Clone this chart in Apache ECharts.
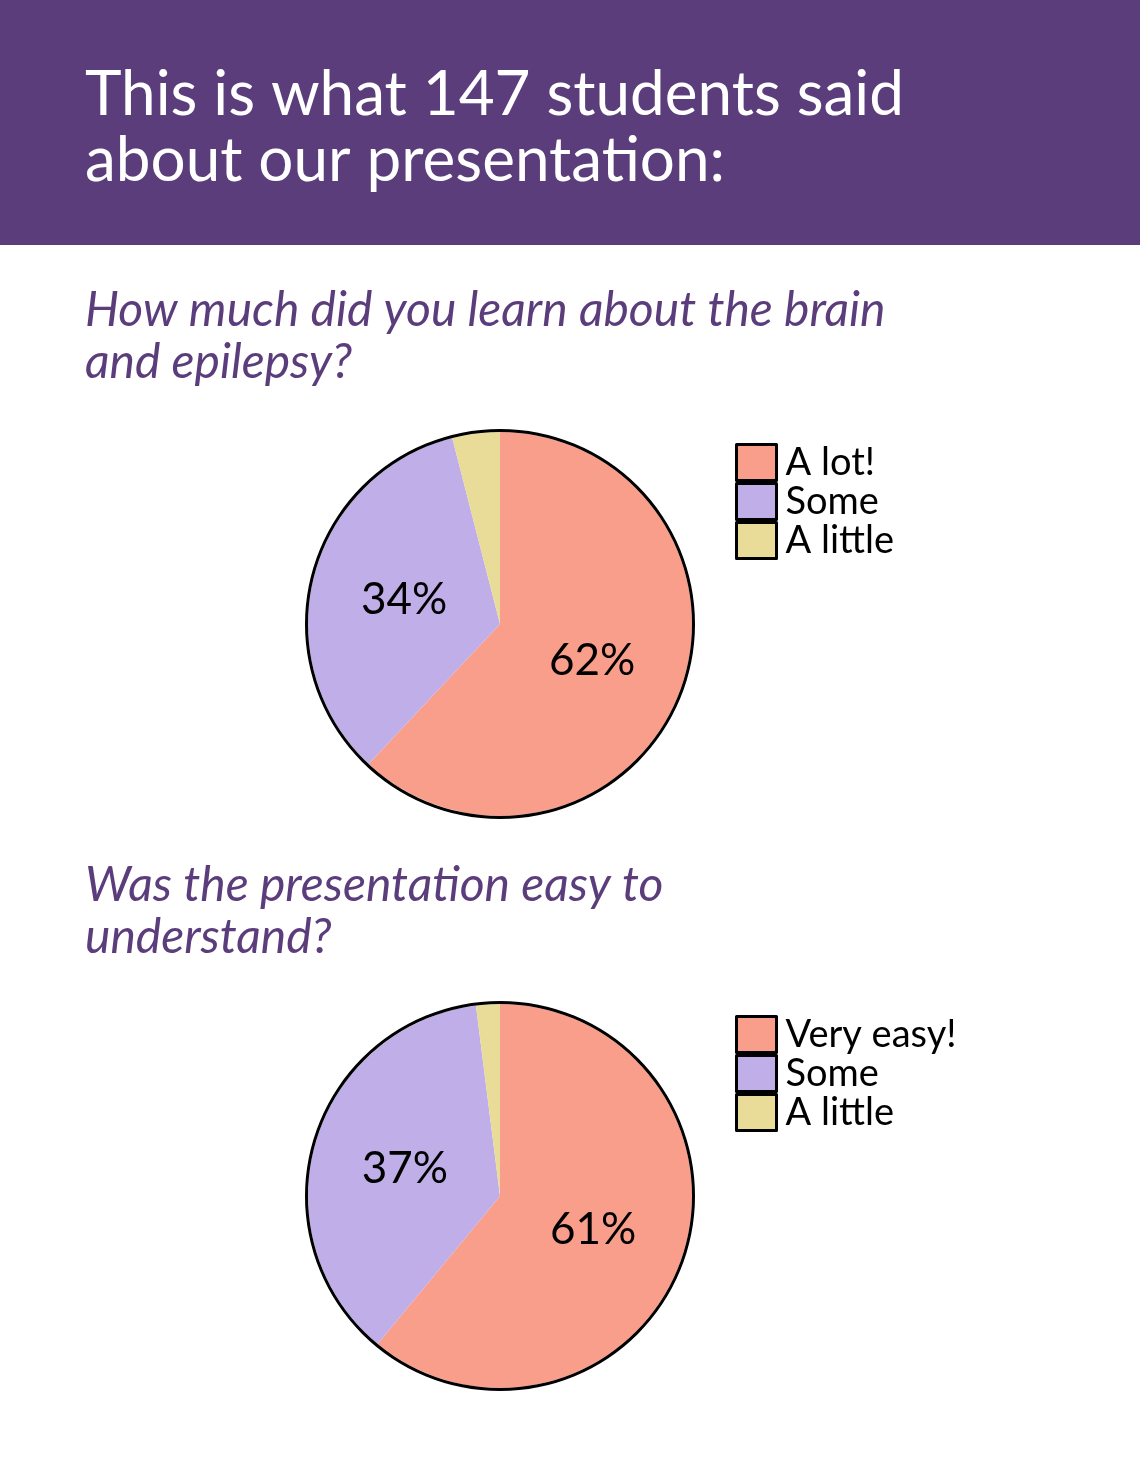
<!DOCTYPE html>
<html><head><meta charset="utf-8">
<script src="https://cdn.jsdelivr.net/npm/echarts@6/dist/echarts.min.js"></script>
<style>html,body{margin:0;padding:0;background:#fff}#c{width:1140px;height:1476px}</style>
</head><body><div id="c"></div>
<script>
const title = "This is what 147 students said\nabout our presentation:";
const q1 = "How much did you learn about the brain\nand epilepsy?";
const q2 = "Was the presentation easy to\nunderstand?";
const cats1 = ["A lot!", "Some", "A little"];
const vals1 = [62, 34, 4];
const cats2 = ["Very easy!", "Some", "A little"];
const vals2 = [61, 37, 2];
const colors = ["#FA9E8C", "#C0AEE8", "#E8DC98"];
const F = "Lato, 'Noto Sans', sans-serif";
const chart = echarts.init(document.getElementById('c'));
function pieData(cats, vals){ return cats.map((n,i)=>({name:n,value:vals[i],itemStyle:{color:colors[i]},label:{show:i<2}})); }
function pie(cats, vals, cy){
  return {type:'pie', center:[500,cy], radius:[0,192], startAngle:90, clockwise:true,
    itemStyle:{borderColor:'#000',borderWidth:0}, silent:true,
    label:{position:'inside', formatter:'{c}%', fontSize:44, color:'#000', fontFamily:F},
    labelLine:{show:false}, data:pieData(cats, vals)};
}
function outline(cy){ return {type:'pie',center:[500,cy],radius:[192,195],silent:true,label:{show:false},data:[{value:1,itemStyle:{color:'#000'}}]}; }
function legend(cats, top){
  return {orient:'vertical', left:730, top:top, itemGap:0, itemWidth:40, itemHeight:36,
    icon:'rect', data:cats, selectedMode:false,
    itemStyle:{borderColor:'#000',borderWidth:3},
    textStyle:{fontSize:38,color:'#000',fontFamily:F,padding:[0,0,0,4]}};
}
chart.setOption({
  animation:false,
  color:colors,
  graphic:[
    {type:'rect',shape:{x:0,y:0,width:1140,height:245},style:{fill:'#5B3D7C'}},
    {type:'text',left:85,top:62,style:{text:title,fill:'#fff',font:'62px '+F,lineHeight:66}},
    {type:'text',left:85,top:285,style:{text:q1,fill:'#5B3D7C',font:'italic 48px '+F,lineHeight:52}},
    {type:'text',left:85,top:860,style:{text:q2,fill:'#5B3D7C',font:'italic 48px '+F,lineHeight:52}}
  ],
  legend:[legend(cats1,438), legend(cats2,1010)],
  series:[pie(cats1,vals1,624), outline(624), pie(cats2,vals2,1196), outline(1196)]
});
</script></body></html>
